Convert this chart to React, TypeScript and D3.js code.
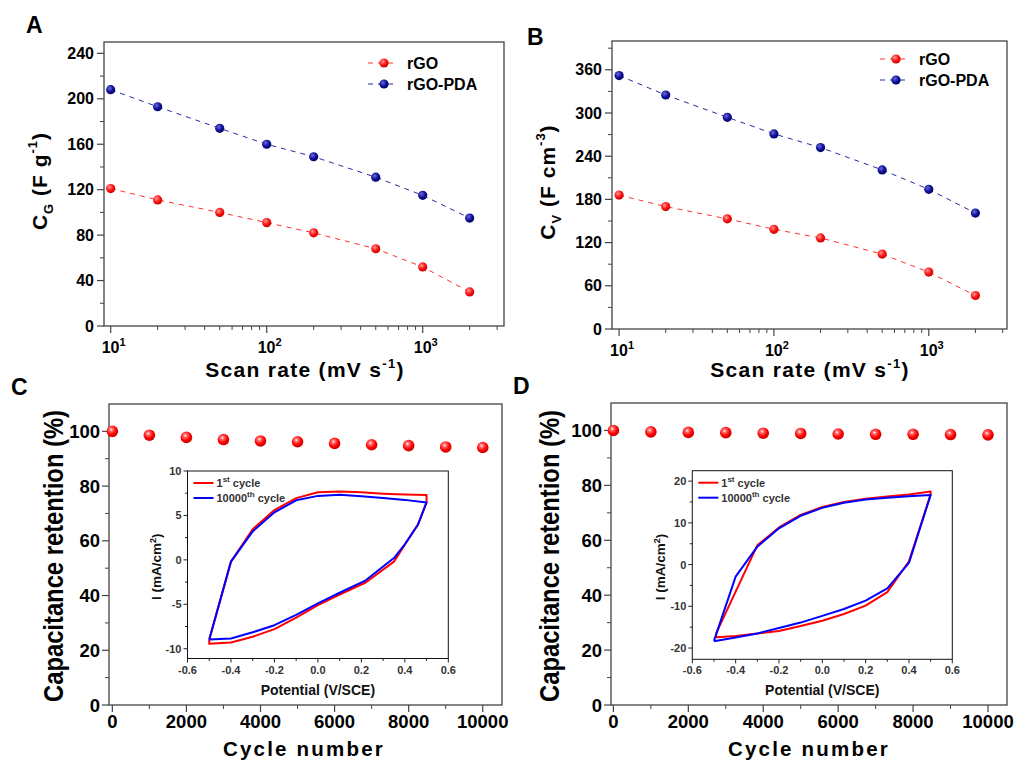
import React from 'react';
import * as d3 from 'd3';

const FONT = "Arial, 'Liberation Sans', sans-serif";

// ---------- data ----------
const scanRates = [10, 20, 50, 100, 200, 500, 1000, 2000];
const cgRGO = [121, 111, 100, 91, 82, 68, 52, 30];
const cgPDA = [208, 193, 174, 160, 149, 131, 115, 95];
const cvRGO = [186, 170, 153, 138.5, 126.5, 104, 79, 46.5];
const cvPDA = [352, 325, 294, 271, 252, 221, 194, 161];

const cycles = [0, 1000, 2000, 3000, 4000, 5000, 6000, 7000, 8000, 9000, 10000];
const retentionC = [100, 98.6, 97.8, 97.0, 96.5, 96.2, 95.6, 95.1, 94.8, 94.3, 94.1];
const retentionD = [100, 99.5, 99.3, 99.2, 99.0, 98.9, 98.7, 98.6, 98.6, 98.5, 98.4];

const cvC1E = [-0.5, -0.4, -0.3, -0.2, -0.1, 0, 0.1, 0.2, 0.3, 0.4, 0.5, 0.5, 0.46, 0.4, 0.35, 0.22, 0.1, 0, -0.1, -0.2, -0.3, -0.4, -0.5, -0.5];
const cvC1I = [-9.0, -0.2, 3.45, 5.6, 6.95, 7.6, 7.7, 7.6, 7.45, 7.35, 7.3, 6.5, 3.95, 1.7, -0.2, -2.55, -3.9, -5.1, -6.5, -7.8, -8.65, -9.3, -9.45, -9.0];
const cvC2E = [-0.5, -0.4, -0.3, -0.2, -0.1, 0, 0.1, 0.2, 0.3, 0.4, 0.5, 0.46, 0.4, 0.35, 0.22, 0.1, 0, -0.1, -0.2, -0.3, -0.4, -0.5];
const cvC2I = [-8.95, -0.2, 3.2, 5.35, 6.7, 7.2, 7.33, 7.15, 6.95, 6.75, 6.45, 3.95, 1.75, 0.2, -2.3, -3.7, -4.9, -6.2, -7.35, -8.15, -8.85, -8.95];

const cvD1E = [-0.49, -0.3, -0.2, -0.1, 0, 0.1, 0.2, 0.3, 0.4, 0.5, 0.5, 0.4, 0.3, 0.2, 0.1, 0, -0.1, -0.2, -0.3, -0.4, -0.49, -0.49];
const cvD1I = [-16.5, 4.6, 8.9, 11.9, 13.8, 15.0, 15.8, 16.3, 16.8, 17.5, 16.8, 0.8, -6.6, -9.85, -11.85, -13.45, -14.7, -15.9, -16.5, -17.1, -17.4, -16.5];
const cvD2E = [-0.5, -0.4, -0.3, -0.2, -0.1, 0, 0.1, 0.2, 0.3, 0.4, 0.5, 0.4, 0.3, 0.2, 0.1, 0, -0.1, -0.2, -0.3, -0.4, -0.5];
const cvD2I = [-18.3, -2.9, 4.3, 8.7, 11.7, 13.6, 14.8, 15.6, 16.0, 16.4, 16.7, 0.4, -5.7, -8.65, -10.65, -12.3, -13.9, -15.2, -16.5, -17.5, -18.4];

const potentialTicks = [-0.6, -0.4, -0.2, 0.0, 0.2, 0.4, 0.6];
const insetCTicks = [-10, -5, 0, 5, 10];
const insetDTicks = [-20, -10, 0, 10, 20];
const retentionTicks = [0, 20, 40, 60, 80, 100];
const cycleTicks = [0, 2000, 4000, 6000, 8000, 10000];
const cgTicks = [0, 40, 80, 120, 160, 200, 240];
const cvTicks = [0, 60, 120, 180, 240, 300, 360];

type Box = { x0: number; y0: number; x1: number; y1: number };

function Frame({ b, stroke = '#444', sw = 1.3 }: { b: Box; stroke?: string; sw?: number }) {
  return <rect x={b.x0} y={b.y0} width={b.x1 - b.x0} height={b.y1 - b.y0} fill="none" stroke={stroke} strokeWidth={sw} />;
}

function LogPanel(props: {
  b: Box; xDom: [number, number]; yDom: [number, number]; yTicks: number[]; yMinorStep: number;
  red: number[]; blue: number[]; legend: { x: number; y: number };
  letter: { t: string; x: number; y: number }; yTitle: React.ReactNode; yTitlePos: [number, number]; xTitleX: number;
}) {
  const { b, xDom, yDom, yTicks, yMinorStep, red, blue, legend, letter, yTitle, yTitlePos, xTitleX } = props;
  const x = d3.scaleLog().domain(xDom).range([b.x0, b.x1]);
  const y = d3.scaleLinear().domain(yDom).range([b.y1, b.y0]);
  const minorY = d3.range(yDom[0], yDom[1] + 0.001, yMinorStep).filter(v => !yTicks.includes(v));
  const minorX: number[] = [];
  for (let k = 0; k < 4; k++) for (let m = 2; m <= 9; m++) { const v = m * Math.pow(10, k); if (v > xDom[0] && v < xDom[1]) minorX.push(v); }
  const majorX = [10, 100, 1000];
  const line = (vals: number[]) => d3.line<number>().x((_, i) => x(scanRates[i])).y(v => y(v))(vals) || '';
  return (
    <g>
      <text x={letter.x} y={letter.y} fontSize={23} fontWeight="bold">{letter.t}</text>
      <Frame b={b} />
      {yTicks.map(v => (
        <g key={'yt' + v}>
          <line x1={b.x0 - 7} x2={b.x0} y1={y(v)} y2={y(v)} stroke="#444" strokeWidth={1.2} />
          <text x={b.x0 - 10} y={y(v) + 5.5} textAnchor="end" fontSize={16} fontWeight="bold">{v}</text>
        </g>
      ))}
      {minorY.map(v => <line key={'ym' + v} x1={b.x0 - 4} x2={b.x0} y1={y(v)} y2={y(v)} stroke="#444" strokeWidth={1} />)}
      {majorX.map((v, i) => (
        <g key={'xt' + v}>
          <line x1={x(v)} x2={x(v)} y1={b.y1} y2={b.y1 + 7} stroke="#444" strokeWidth={1.2} />
          <text x={x(v) + 3} y={b.y1 + 27} textAnchor="middle" fontSize={16} fontWeight="bold">10<tspan dy={-7} fontSize={11}>{i + 1}</tspan></text>
        </g>
      ))}
      {minorX.map(v => <line key={'xm' + v} x1={x(v)} x2={x(v)} y1={b.y1} y2={b.y1 + 4} stroke="#444" strokeWidth={1} />)}
      <path d={line(red)} fill="none" stroke="#ff3030" strokeWidth={1} strokeDasharray="5,5" />
      <path d={line(blue)} fill="none" stroke="#2a2aa0" strokeWidth={1} strokeDasharray="5,5" />
      {red.map((v, i) => <circle key={'r' + i} cx={x(scanRates[i])} cy={y(v)} r={4.6} fill="url(#gRed)" />)}
      {blue.map((v, i) => <circle key={'b' + i} cx={x(scanRates[i])} cy={y(v)} r={4.6} fill="url(#gNavy)" />)}
      <g>
        <line x1={legend.x} x2={legend.x + 30} y1={legend.y} y2={legend.y} stroke="#ff3030" strokeWidth={1} strokeDasharray="5,5" />
        <circle cx={legend.x + 16} cy={legend.y} r={4.6} fill="url(#gRed)" />
        <text x={legend.x + 39} y={legend.y + 5.5} fontSize={16} fontWeight="bold">rGO</text>
        <line x1={legend.x} x2={legend.x + 30} y1={legend.y + 21} y2={legend.y + 21} stroke="#2a2aa0" strokeWidth={1} strokeDasharray="5,5" />
        <circle cx={legend.x + 16} cy={legend.y + 21} r={4.6} fill="url(#gNavy)" />
        <text x={legend.x + 39} y={legend.y + 26.5} fontSize={16} fontWeight="bold">rGO-PDA</text>
      </g>
      <text transform={`translate(${yTitlePos[0]},${yTitlePos[1]}) rotate(-90)`} textAnchor="middle" fontSize={21} fontWeight="bold" letterSpacing={1}>{yTitle}</text>
      <text x={xTitleX} y={377} textAnchor="middle" fontSize={21} fontWeight="bold" letterSpacing={1.3}>
        Scan rate (mV s<tspan dy={-9} fontSize={13}>-1</tspan><tspan dy={9}>)</tspan>
      </text>
    </g>
  );
}

function CyclePanel(props: {
  b: Box; xDom: [number, number]; ret: number[]; letter: { t: string; x: number; y: number };
  yTitleX: number; xTitleX: number;
  inset: Box; insetYDom: [number, number]; insetTicks: number[]; insetMinor: number[];
  e1: number[]; i1: number[]; e2: number[]; i2: number[];
}) {
  const { b, xDom, ret, letter, yTitleX, xTitleX, inset, insetYDom, insetTicks, insetMinor, e1, i1, e2, i2 } = props;
  const x = d3.scaleLinear().domain(xDom).range([b.x0, b.x1]);
  const y = d3.scaleLinear().domain([0, 110]).range([b.y1, b.y0]);
  const minorY = [10, 30, 50, 70, 90];
  const minorX = [1000, 3000, 5000, 7000, 9000];
  const ix = d3.scaleLinear().domain([-0.6, 0.6]).range([inset.x0, inset.x1]);
  const iy = d3.scaleLinear().domain(insetYDom).range([inset.y1, inset.y0]);
  const iMinorX = [-0.5, -0.3, -0.1, 0.1, 0.3, 0.5];
  const cv = (es: number[], is: number[]) => d3.line<number>().x(v => ix(v)).y((_, k) => iy(is[k]))(es) || '';
  return (
    <g>
      <text x={letter.x} y={letter.y} fontSize={23} fontWeight="bold">{letter.t}</text>
      <Frame b={b} />
      {retentionTicks.map(v => (
        <g key={'yt' + v}>
          <line x1={b.x0 - 7} x2={b.x0} y1={y(v)} y2={y(v)} stroke="#444" strokeWidth={1.2} />
          <text x={b.x0 - 9} y={y(v) + 6.5} textAnchor="end" fontSize={18.5} fontWeight="bold">{v}</text>
        </g>
      ))}
      {minorY.map(v => <line key={'ym' + v} x1={b.x0 - 4} x2={b.x0} y1={y(v)} y2={y(v)} stroke="#444" strokeWidth={1} />)}
      {cycleTicks.map(v => (
        <g key={'xt' + v}>
          <line x1={x(v)} x2={x(v)} y1={b.y1} y2={b.y1 + 7} stroke="#444" strokeWidth={1.2} />
          <text x={x(v)} y={728} textAnchor="middle" fontSize={18.5} fontWeight="bold">{v}</text>
        </g>
      ))}
      {minorX.map(v => <line key={'xm' + v} x1={x(v)} x2={x(v)} y1={b.y1} y2={b.y1 + 4} stroke="#444" strokeWidth={1} />)}
      {ret.map((v, k) => <circle key={'p' + k} cx={x(cycles[k])} cy={y(v)} r={5.8} fill="url(#gSphere)" />)}
      <text transform={`translate(${yTitleX},556) rotate(-90)`} textAnchor="middle" fontSize={27} fontWeight="bold" textLength={292} lengthAdjust="spacingAndGlyphs">Capacitance retention (%)</text>
      <text x={xTitleX} y={756} textAnchor="middle" fontSize={20.5} fontWeight="bold" letterSpacing={2.2}>Cycle number</text>

      {/* inset */}
      <rect x={inset.x0} y={inset.y0} width={inset.x1 - inset.x0} height={inset.y1 - inset.y0} fill="#fff" stroke="#111" strokeWidth={1} />
      {insetTicks.map(v => (
        <g key={'it' + v}>
          <line x1={inset.x0 - 4} x2={inset.x0} y1={iy(v)} y2={iy(v)} stroke="#222" />
          <text x={inset.x0 - 6} y={iy(v) + 4} textAnchor="end" fontSize={11} fontWeight="bold" fill="#333">{v}</text>
        </g>
      ))}
      {insetMinor.map(v => <line key={'im' + v} x1={inset.x0 - 2.5} x2={inset.x0} y1={iy(v)} y2={iy(v)} stroke="#222" />)}
      {potentialTicks.map(v => (
        <g key={'ix' + v}>
          <line x1={ix(v)} x2={ix(v)} y1={inset.y1} y2={inset.y1 + 4} stroke="#222" />
          <text x={ix(v)} y={inset.y1 + 15} textAnchor="middle" fontSize={11} fontWeight="bold" fill="#333">{v.toFixed(1)}</text>
        </g>
      ))}
      {iMinorX.map(v => <line key={'ixm' + v} x1={ix(v)} x2={ix(v)} y1={inset.y1} y2={inset.y1 + 2.5} stroke="#222" />)}
      <path d={cv(e1, i1)} fill="none" stroke="#ff0000" strokeWidth={2} strokeLinejoin="round" />
      <path d={cv(e2, i2)} fill="none" stroke="#0000ff" strokeWidth={2} strokeLinejoin="round" />
      <line x1={inset.x0 + 6} x2={inset.x0 + 26} y1={inset.y0 + 12} y2={inset.y0 + 12} stroke="#ff0000" strokeWidth={2} />
      <text x={inset.x0 + 29} y={inset.y0 + 16} fontSize={11} fontWeight="bold" fill="#333">1<tspan dy={-5} fontSize={8}>st</tspan><tspan dy={5}> cycle</tspan></text>
      <line x1={inset.x0 + 6} x2={inset.x0 + 26} y1={inset.y0 + 27} y2={inset.y0 + 27} stroke="#0000ff" strokeWidth={2} />
      <text x={inset.x0 + 29} y={inset.y0 + 31} fontSize={11} fontWeight="bold" fill="#333">10000<tspan dy={-5} fontSize={8}>th</tspan><tspan dy={5}> cycle</tspan></text>
      <text transform={`translate(${inset.x0 - 27},${(inset.y0 + inset.y1) / 2 + 2}) rotate(-90)`} textAnchor="middle" fontSize={13.5} fontWeight="bold" fill="#111">
        I (mA/cm<tspan dy={-5} fontSize={9}>2</tspan><tspan dy={5}>)</tspan>
      </text>
      <text x={(inset.x0 + inset.x1) / 2} y={inset.y1 + 36} textAnchor="middle" fontSize={14} fontWeight="bold" fill="#111">Potential (V/SCE)</text>
    </g>
  );
}

export default function App() {
  return (
    <svg width={1014} height={760} style={{ position: 'absolute', left: 0, top: 0, background: '#fff' }} fontFamily={FONT}>
      <defs>
        <radialGradient id="gRed" cx="38%" cy="35%" r="70%">
          <stop offset="0%" stopColor="#ff9a9a" />
          <stop offset="55%" stopColor="#ff1010" />
          <stop offset="100%" stopColor="#c00000" />
        </radialGradient>
        <radialGradient id="gNavy" cx="38%" cy="35%" r="70%">
          <stop offset="0%" stopColor="#6a6ad8" />
          <stop offset="55%" stopColor="#10109a" />
          <stop offset="100%" stopColor="#000060" />
        </radialGradient>
        <radialGradient id="gSphere" cx="40%" cy="35%" r="70%">
          <stop offset="0%" stopColor="#ffffff" />
          <stop offset="20%" stopColor="#ff7070" />
          <stop offset="60%" stopColor="#ff0000" />
          <stop offset="100%" stopColor="#c00000" />
        </radialGradient>
      </defs>

      <LogPanel
        b={{ x0: 104, y0: 42, x1: 504, y1: 326 }} xDom={[9.06, 3320]} yDom={[0, 250]} yTicks={cgTicks} yMinorStep={20}
        red={cgRGO} blue={cgPDA} legend={{ x: 368, y: 63 }} letter={{ t: 'A', x: 26, y: 33 }}
        yTitlePos={[47, 181]} xTitleX={305}
        yTitle={<>C<tspan dy={6} fontSize={13}>G</tspan><tspan dy={-6}> (F g</tspan><tspan dy={-10} fontSize={13}>-1</tspan><tspan dy={10}>)</tspan></>}
      />
      <LogPanel
        b={{ x0: 612, y0: 41, x1: 1007, y1: 329 }} xDom={[9.0, 3200]} yDom={[0, 400]} yTicks={cvTicks} yMinorStep={30}
        red={cvRGO} blue={cvPDA} legend={{ x: 880, y: 59 }} letter={{ t: 'B', x: 527, y: 45 }}
        yTitlePos={[555, 182]} xTitleX={810}
        yTitle={<>C<tspan dy={6} fontSize={13}>V</tspan><tspan dy={-6}> (F cm</tspan><tspan dy={-10} fontSize={13}>-3</tspan><tspan dy={10}>)</tspan></>}
      />
      <CyclePanel
        b={{ x0: 109, y0: 404, x1: 502, y1: 705 }} xDom={[-90, 10520]} ret={retentionC} letter={{ t: 'C', x: 11, y: 395 }}
        yTitleX={63} xTitleX={304}
        inset={{ x0: 187.5, y0: 471, x1: 448.3, y1: 658.5 }} insetYDom={[-11.1, 10]} insetTicks={insetCTicks} insetMinor={[-7.5, -2.5, 2.5, 7.5]}
        e1={cvC1E} i1={cvC1I} e2={cvC2E} i2={cvC2I}
      />
      <CyclePanel
        b={{ x0: 611, y0: 403, x1: 1007, y1: 705 }} xDom={[-64, 10507]} ret={retentionD} letter={{ t: 'D', x: 513, y: 394 }}
        yTitleX={559} xTitleX={809}
        inset={{ x0: 692.3, y0: 470.7, x1: 952.3, y1: 659.3 }} insetYDom={[-22.7, 22.5]} insetTicks={insetDTicks} insetMinor={[-15, -5, 5, 15]}
        e1={cvD1E} i1={cvD1I} e2={cvD2E} i2={cvD2I}
      />
    </svg>
  );
}
